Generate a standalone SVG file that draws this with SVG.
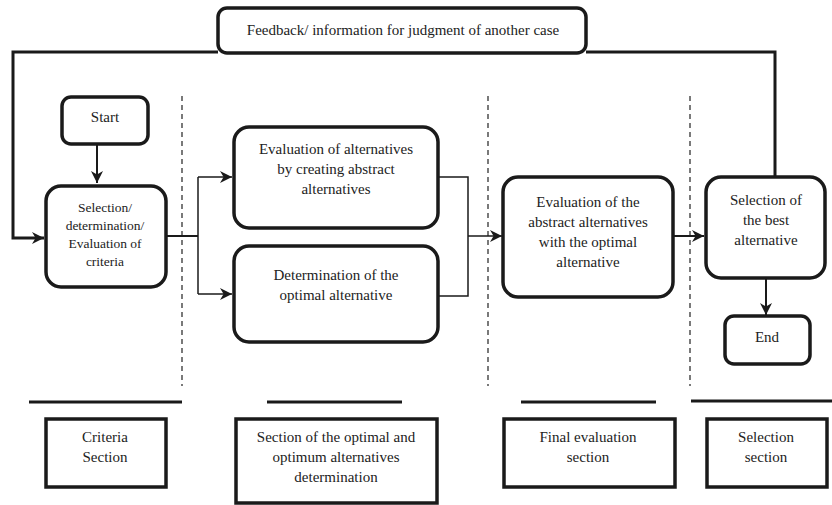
<svg xmlns="http://www.w3.org/2000/svg" width="832" height="505" viewBox="0 0 832 505">
<defs>
<style>
.n{fill:#fff;stroke:#1a1a1a;stroke-width:3.5}
.t{font-family:'Liberation Serif','Tinos','Times New Roman','DejaVu Serif',serif;font-size:15px;fill:#222;text-anchor:middle}
.s{font-size:13.5px}
.c{fill:none;stroke:#1a1a1a;stroke-width:2}
.thin{fill:none;stroke:#1a1a1a;stroke-width:1.5}
.fb{fill:none;stroke:#1a1a1a;stroke-width:3}
.d{stroke:#333;stroke-width:1.3;stroke-dasharray:5,4}
.h{stroke:#1a1a1a;stroke-width:3}
</style>
<marker id="b" viewBox="0 0 10 10" refX="10" refY="5" markerWidth="12" markerHeight="12" markerUnits="userSpaceOnUse" orient="auto"><path d="M0,0 L10,5 L0,10 L3,5 z" fill="#1a1a1a"/></marker>
</defs>
<g id="dividers">
<line class="d" x1="182" y1="96" x2="182" y2="386"/>
<line class="d" x1="488" y1="96" x2="488" y2="386"/>
<line class="d" x1="690" y1="96" x2="690" y2="386"/>
<line class="h" x1="29" y1="402" x2="182" y2="402"/>
<line class="h" x1="267" y1="402" x2="402" y2="402"/>
<line class="h" x1="521" y1="402" x2="656" y2="402"/>
<line class="h" x1="691" y1="401" x2="832" y2="401"/>
</g>
<g id="connectors">
<path class="fb" d="M218,52 H13 V238 H44" marker-end="url(#b)"/>
<path class="fb" d="M586,52 H775 V176"/>
<path class="c" d="M97,145 V183" marker-end="url(#b)"/>
<path class="c" d="M166,236 H198"/>
<path class="thin" d="M198,177 V294"/>
<path class="thin" d="M198,177 H232" marker-end="url(#b)"/>
<path class="thin" d="M198,294 H232" marker-end="url(#b)"/>
<path class="thin" d="M438,177 H468 V296 H438"/>
<path class="thin" d="M468,236 H502" marker-end="url(#b)"/>
<path class="c" d="M673,236 H704" marker-end="url(#b)"/>
<path class="c" d="M766,279 V315" marker-end="url(#b)"/>
</g>
<g id="feedback">
<rect class="n" x="218" y="8" width="368" height="45" rx="9"/>
<text class="t" font-family="Liberation Serif, serif" x="403" y="35">Feedback/ information for judgment of another case</text>
</g>
<g id="start">
<rect class="n" x="62" y="97" width="86" height="47" rx="9"/>
<text class="t" x="105" y="122">Start</text>
</g>
<g id="criteria">
<rect class="n" x="46" y="186" width="120" height="101" rx="15"/>
<text class="t s"><tspan x="105" y="212">Selection/</tspan><tspan x="105" y="230">determination/</tspan><tspan x="105" y="248">Evaluation of</tspan><tspan x="105" y="266">criteria</tspan></text>
</g>
<g id="abstract">
<rect class="n" x="234" y="127" width="204" height="101" rx="15"/>
<text class="t"><tspan x="336" y="154">Evaluation of alternatives</tspan><tspan x="336" y="174">by creating abstract</tspan><tspan x="336" y="194">alternatives</tspan></text>
</g>
<g id="optimal">
<rect class="n" x="234" y="246" width="204" height="96" rx="15"/>
<text class="t"><tspan x="336" y="280">Determination of the</tspan><tspan x="336" y="300">optimal alternative</tspan></text>
</g>
<g id="evaluation">
<rect class="n" x="503" y="177" width="170" height="120" rx="15"/>
<text class="t"><tspan x="588" y="207">Evaluation of the</tspan><tspan x="588" y="227">abstract alternatives</tspan><tspan x="588" y="247">with the optimal</tspan><tspan x="588" y="267">alternative</tspan></text>
</g>
<g id="best">
<rect class="n" x="706" y="177" width="119" height="101" rx="15"/>
<text class="t"><tspan x="766" y="205">Selection of</tspan><tspan x="766" y="225">the best</tspan><tspan x="766" y="245">alternative</tspan></text>
</g>
<g id="end">
<rect class="n" x="725" y="316" width="85" height="48" rx="9"/>
<text class="t" x="767" y="342">End</text>
</g>
<g id="sec1">
<rect class="n" x="46" y="419" width="120" height="68"/>
<text class="t"><tspan x="105" y="442">Criteria</tspan><tspan x="105" y="462">Section</tspan></text>
</g>
<g id="sec2">
<rect class="n" x="236" y="419" width="201" height="84"/>
<text class="t"><tspan x="336" y="442">Section of the optimal and</tspan><tspan x="336" y="462">optimum alternatives</tspan><tspan x="336" y="482">determination</tspan></text>
</g>
<g id="sec3">
<rect class="n" x="504" y="419" width="171" height="68"/>
<text class="t"><tspan x="588" y="442">Final evaluation</tspan><tspan x="588" y="462">section</tspan></text>
</g>
<g id="sec4">
<rect class="n" x="707" y="419" width="120" height="68"/>
<text class="t"><tspan x="766" y="442">Selection</tspan><tspan x="766" y="462">section</tspan></text>
</g>
</svg>
